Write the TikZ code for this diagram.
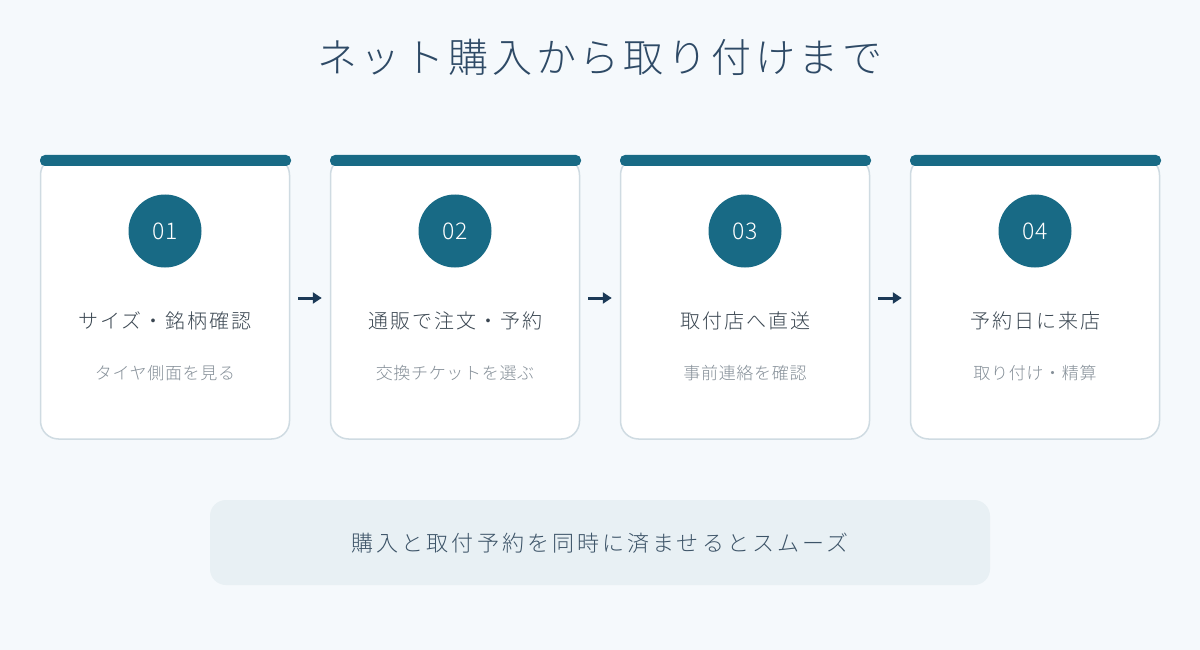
\documentclass[tikz,border=0pt]{standalone}
\usepackage{fontspec}
\setmainfont{Noto Sans CJK JP Light}
\newfontfamily\titlefont{Noto Sans CJK JP Light}[LetterSpace=9.5]
\newfontfamily\headfont{Noto Sans CJK JP Light}[LetterSpace=10]
\newfontfamily\subfont{Noto Sans CJK JP Light}[LetterSpace=4]
\newfontfamily\notefont{Noto Sans CJK JP Light}[LetterSpace=14]
\definecolor{bg}{HTML}{F5F9FC}
\definecolor{teal}{HTML}{186A85}
\definecolor{cardline}{HTML}{CFDBE2}
\definecolor{titlecol}{HTML}{2E4A66}
\definecolor{headcol}{HTML}{3A4651}
\definecolor{subcol}{HTML}{858F98}
\definecolor{notebg}{HTML}{E8F0F4}
\definecolor{notecol}{HTML}{3D5468}
\definecolor{arrowcol}{HTML}{1C3A57}
\usetikzlibrary{arrows.meta}
\tikzset{
  card/.style={draw=cardline, line width=1.5pt, fill=white, rounded corners=18pt,
    minimum width=249pt, minimum height=282pt, inner sep=0pt},
  cardbar/.style={fill=teal, rounded corners=5pt, minimum width=251pt, minimum height=11pt, inner sep=0pt},
  badge/.style={circle, fill=teal, minimum size=73pt, inner sep=0pt, text=white,
    font=\fontsize{23}{27}\selectfont},
  head/.style={text=headcol, font=\headfont\fontsize{20}{24}\selectfont},
  sub/.style={text=subcol, font=\subfont\fontsize{17}{21}\selectfont},
  flow/.style={draw=arrowcol, line width=3pt, -{Triangle[length=9pt,width=11pt]}, shorten <=8pt, shorten >=8pt},
}
\begin{document}
\begin{tikzpicture}[x=1pt,y=-1pt]
\fill[bg] (0,0) rectangle (1200,650);
\useasboundingbox (0,0) rectangle (1200,650);
\node[text=titlecol, font=\titlefont\fontsize{40}{48}\selectfont] (title) at (600,57) {ネット購入から取り付けまで};
\foreach \i/\x/\n/\h/\s in {1/165/01/サイズ・銘柄確認/タイヤ側面を見る,
                            2/455/02/通販で注文・予約/交換チケットを選ぶ,
                            3/745/03/取付店へ直送/事前連絡を確認,
                            4/1035/04/予約日に来店/取り付け・精算}{
  \node[card] (card\i) at (\x,298) {};
  \node[cardbar] (bar\i) at (\x+0.5,160.5) {};
  \node[badge] (badge\i) at (\x,231) {\n};
  \node[head] (head\i) at (\x,321) {\h};
  \node[sub] (sub\i) at (\x,373) {\s};
}
\draw[flow] (card1.east) -- (card2.west);
\draw[flow] (card2.east) -- (card3.west);
\draw[flow] (card3.east) -- (card4.west);
\node[fill=notebg, rounded corners=16pt, minimum width=780pt, minimum height=85pt, inner sep=0pt] (note) at (600,542.5) {};
\node[text=notecol, font=\notefont\fontsize{22}{26}\selectfont] (notetext) at (600,543) {購入と取付予約を同時に済ませるとスムーズ};
\end{tikzpicture}
\end{document}
